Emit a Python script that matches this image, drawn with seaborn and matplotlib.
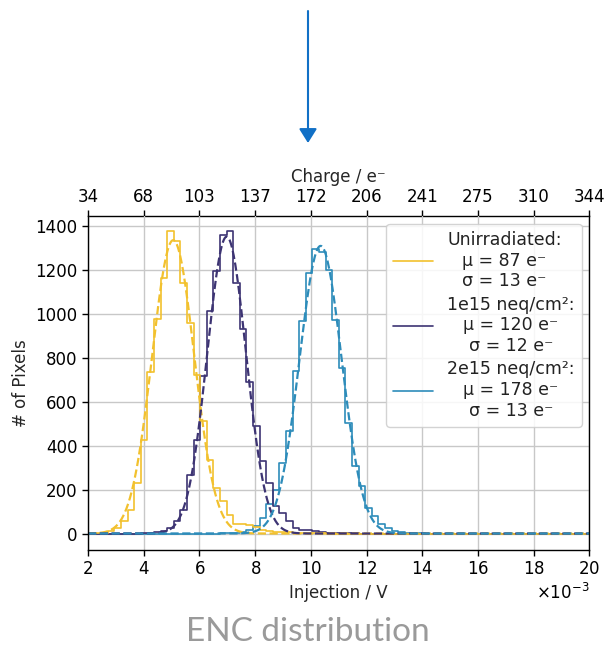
import numpy as np
import pandas as pd
import matplotlib
matplotlib.use("Agg")
import matplotlib.pyplot as plt
import seaborn as sns
from matplotlib.lines import Line2D
from matplotlib.patches import FancyArrowPatch

# ---------------- data ----------------
series_names = ["Unirradiated", "1e15 neq/cm²", "2e15 neq/cm²"]
series_colors = ["#f2c12e", "#3d3473", "#2d8cba"]

# histogram binning (injection in mV)
bin_start_mV = 2.0
bin_stop_mV = 20.0
n_bins = 76

counts_unirr = [
    1, 2, 4, 10, 25, 55, 109, 230, 427, 735, 977, 1162, 1377, 1332, 1139, 957,
    723, 510, 336, 207, 147, 86, 45, 42, 40, 30, 18, 12, 8, 6, 5, 4,
    3, 2, 2, 1, 0, 0, 0, 0, 0, 0, 0, 0, 0, 0, 0, 0,
    0, 0, 0, 0, 0, 0, 0, 0, 0, 0, 0, 0, 0, 0, 0, 0,
    0, 0, 0, 0, 0, 0, 0, 0, 0, 0, 0, 0,
]
counts_1e15 = [
    0, 0, 0, 0, 0, 0, 0, 0, 1, 2, 5, 10, 26, 55, 105, 265,
    425, 715, 1014, 1195, 1359, 1377, 1139, 932, 690, 488, 329, 228, 124, 94, 56, 26,
    18, 14, 10, 6, 4, 3, 2, 1, 1, 0, 0, 0, 0, 0, 0, 0,
    0, 0, 0, 0, 0, 0, 0, 0, 0, 0, 0, 0, 0, 0, 0, 0,
    0, 0, 0, 0, 0, 0, 0, 0, 0, 0, 0, 0,
]
counts_2e15 = [
    0, 0, 0, 0, 0, 0, 0, 0, 0, 0, 0, 0, 0, 0, 0, 0,
    0, 0, 0, 0, 1, 2, 3, 6, 15, 35, 72, 135, 200, 321, 465, 738,
    968, 1185, 1294, 1280, 1200, 973, 753, 505, 306, 215, 117, 79, 45, 26, 12, 6,
    3, 2, 1, 0, 0, 0, 0, 0, 0, 0, 0, 0, 0, 0, 0, 0,
    0, 0, 0, 0, 0, 0, 0, 0, 0, 0, 0, 0,
]

# Gaussian fit results (legend values) and fitted peak heights
fit_mu_e = [87, 120, 178]
fit_sigma_e = [13, 12, 13]
fit_amplitude = [1335, 1351, 1309]
e_per_mV = 17.2

bottom_ticks_mV = [2, 4, 6, 8, 10, 12, 14, 16, 18, 20]
top_tick_labels = ["34", "68", "103", "137", "172", "206", "241", "275", "310", "344"]
y_ticks = [0, 200, 400, 600, 800, 1000, 1200, 1400]

# ---------------- figure ----------------
sns.set_theme(style="ticks")
plt.rcParams["font.family"] = ["DejaVu Sans"]
plt.rcParams["axes.edgecolor"] = "black"
plt.rcParams["xtick.color"] = "black"
plt.rcParams["ytick.color"] = "black"
plt.rcParams["text.color"] = "#222222"

fig = plt.figure(figsize=(6.05, 6.5), dpi=100)
ax = fig.add_axes([88 / 605, 1 - 550 / 650, (589.5 - 88) / 605, (550 - 216) / 650])

edges_V = np.linspace(bin_start_mV, bin_stop_mV, n_bins + 1) * 1e-3
centers_V = 0.5 * (edges_V[:-1] + edges_V[1:])

all_counts = [counts_unirr, counts_1e15, counts_2e15]
frames = []
for name, cnt in zip(series_names, all_counts):
    frames.append(pd.DataFrame({"inj": centers_V, "count": cnt, "series": name}))
hist_df = pd.concat(frames, ignore_index=True)

sns.histplot(
    data=hist_df, x="inj", weights="count", hue="series",
    hue_order=series_names, palette=series_colors, bins=[float(e) for e in edges_V],
    element="step", fill=False, linewidth=1.2, legend=False, ax=ax,
)

x_fit_V = np.linspace(bin_start_mV, bin_stop_mV, 600) * 1e-3
for mu_e, sig_e, amp, col in zip(fit_mu_e, fit_sigma_e, fit_amplitude, series_colors):
    mu_V = mu_e / e_per_mV * 1e-3
    sig_V = sig_e / e_per_mV * 1e-3
    y_fit = amp * np.exp(-0.5 * ((x_fit_V - mu_V) / sig_V) ** 2)
    sns.lineplot(x=x_fit_V, y=y_fit, color=col, linestyle="--", linewidth=1.6,
                 ax=ax, sort=False, estimator=None)

ax.set_xlim(bin_start_mV * 1e-3, bin_stop_mV * 1e-3)
ax.set_ylim(-75, 1445)
ax.set_xticks(np.array(bottom_ticks_mV) * 1e-3)
ax.set_yticks(y_ticks)
ax.ticklabel_format(axis="x", style="sci", scilimits=(-3, -3), useMathText=True)
ax.grid(True, color="#c8c8c8", linewidth=1.0)
ax.set_axisbelow(True)
for s in ax.spines.values():
    s.set_color("black")
    s.set_linewidth(1.0)
ax.spines["top"].set_visible(False)
ax.tick_params(axis="both", labelsize=12, direction="out", length=4, width=1, colors="black")
ax.xaxis.get_offset_text().set_fontsize(12)
ax.set_xlabel("Injection / V", fontsize=12)
ax.set_ylabel("# of Pixels", fontsize=12)

top = ax.secondary_xaxis("top")
top.set_xticks(np.array(bottom_ticks_mV) * 1e-3, labels=top_tick_labels)
top.tick_params(labelsize=12, direction="out", length=4, width=1, colors="black")
top.set_xlabel("Charge / e⁻", fontsize=12)
top.spines["top"].set_color("black")
top.spines["top"].set_linewidth(1.0)

handles = [Line2D([0], [0], color=c, lw=1.2) for c in series_colors]
labels = [
    f"{n}:\nμ = {m} e⁻\nσ = {s} e⁻"
    for n, m, s in zip(series_names, fit_mu_e, fit_sigma_e)
]
leg = ax.legend(handles, labels, loc="upper right", fontsize=12.5, frameon=True,
                framealpha=0.85, edgecolor="#cccccc", fancybox=True,
                handlelength=2.3, labelspacing=0.3, borderaxespad=0.45)
for t in leg.get_texts():
    t.set_multialignment("center")

# arrow above the chart
arrow = FancyArrowPatch(
    (308 / 605, 1 - 11 / 650), (308 / 605, 1 - 143 / 650),
    transform=fig.transFigure, arrowstyle="-|>,head_length=0.86,head_width=0.54",
    mutation_scale=10, color="#1170c6", linewidth=1.5, shrinkA=0, shrinkB=0,
)
fig.patches.append(arrow)

fig.text(308 / 605, 1 - 632 / 650, "ENC distribution", ha="center", va="center",
         fontsize=24, color="#9a9a9a", family=["Lato", "DejaVu Sans"])

fig.savefig("out.png", dpi=100)
